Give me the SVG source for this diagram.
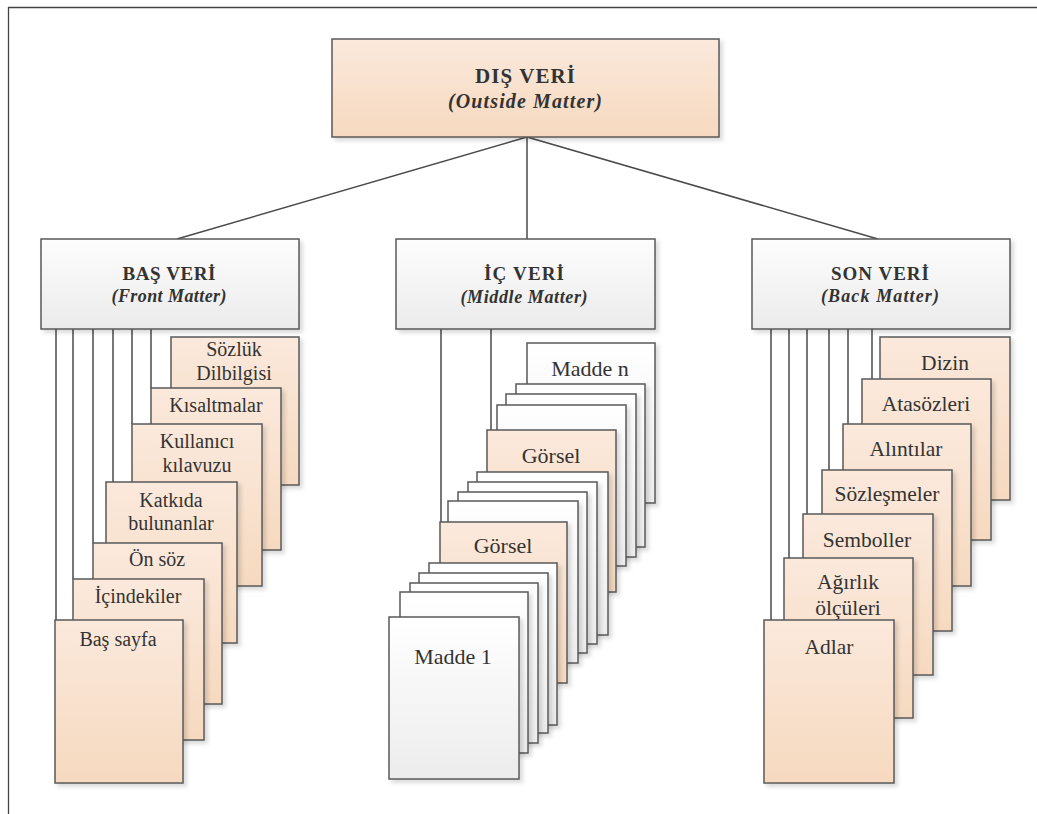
<svg xmlns="http://www.w3.org/2000/svg" width="1037" height="814" viewBox="0 0 1037 814">
<defs>
<linearGradient id="peach" x1="0" y1="0" x2="0" y2="1"><stop offset="0" stop-color="#fbe9dc"/><stop offset="1" stop-color="#f6d9bf"/></linearGradient>
<linearGradient id="white" x1="0" y1="0" x2="0" y2="1"><stop offset="0" stop-color="#ffffff"/><stop offset="1" stop-color="#ececec"/></linearGradient>
<linearGradient id="gray" x1="0" y1="0" x2="0" y2="1"><stop offset="0" stop-color="#fdfdfd"/><stop offset="1" stop-color="#ebebeb"/></linearGradient>
<filter id="sh" x="-10%" y="-10%" width="130%" height="130%"><feDropShadow dx="3" dy="3" stdDeviation="2" flood-color="#000" flood-opacity="0.15"/></filter>
</defs>
<style>
.box{stroke:#5a5a5a;stroke-width:1.5;filter:url(#sh)}
.p{fill:url(#peach)}
.w{fill:url(#white)}
.g{fill:url(#gray)}
.t{font-family:"Liberation Serif","Times New Roman",serif;font-size:20px;fill:#333;text-anchor:middle}
.tm{font-size:22px}
.tr{font-size:21.5px}
.h{font-family:"Liberation Serif","Times New Roman",serif;font-size:19px;font-weight:bold;fill:#333;text-anchor:middle}
.hi{font-family:"Liberation Serif","Times New Roman",serif;font-size:18px;font-weight:bold;font-style:italic;fill:#333;text-anchor:middle}
.big{font-size:21px}
.bigi{font-size:20px}
.c{stroke:#4a4a4a;stroke-width:1.5;fill:none}
</style>
<rect width="1037" height="814" fill="#fff"/>
<path d="M8.5,814 V7.5 H1037" fill="none" stroke="#444" stroke-width="1.3"/>
<g id="connectors" class="c">
<line x1="527" y1="137" x2="177" y2="239"/>
<line x1="527" y1="137" x2="527" y2="239"/>
<line x1="527" y1="137" x2="878" y2="239"/>
<line x1="56" y1="329" x2="56" y2="620"/>
<line x1="73" y1="329" x2="73" y2="579"/>
<line x1="93" y1="329" x2="93" y2="543"/>
<line x1="113" y1="329" x2="113" y2="482"/>
<line x1="132" y1="329" x2="132" y2="424"/>
<line x1="151" y1="329" x2="151" y2="388"/>
<line x1="441" y1="329" x2="441" y2="522"/>
<line x1="491" y1="329" x2="491" y2="430"/>
<line x1="771" y1="329" x2="771" y2="620"/>
<line x1="789" y1="329" x2="789" y2="558"/>
<line x1="807" y1="329" x2="807" y2="514"/>
<line x1="829" y1="329" x2="829" y2="470"/>
<line x1="848" y1="329" x2="848" y2="424"/>
<line x1="872" y1="329" x2="872" y2="379"/>
</g>
<g id="dis-veri"><rect class="box p" x="332" y="39" width="387" height="98"/>
<text class="h big" x="525" y="83" textLength="100" lengthAdjust="spacing">DIŞ VERİ</text>
<text class="hi bigi" x="525" y="108" textLength="154" lengthAdjust="spacing">(Outside Matter)</text></g>
<g id="bas-veri"><rect class="box g" x="41" y="239" width="258" height="90"/>
<text class="h" x="169" y="280" textLength="93" lengthAdjust="spacing">BAŞ VERİ</text>
<text class="hi" x="169" y="302" textLength="115" lengthAdjust="spacing">(Front Matter)</text></g>
<g id="ic-veri"><rect class="box g" x="396" y="239" width="259" height="90"/>
<text class="h" x="524" y="280" textLength="80" lengthAdjust="spacing">İÇ VERİ</text>
<text class="hi" x="524" y="303" textLength="127" lengthAdjust="spacing">(Middle Matter)</text></g>
<g id="son-veri"><rect class="box g" x="752" y="239" width="258" height="90"/>
<text class="h" x="880" y="280" textLength="98" lengthAdjust="spacing">SON VERİ</text>
<text class="hi" x="880" y="302" textLength="118" lengthAdjust="spacing">(Back Matter)</text></g>
<g id="sozluk"><rect class="box p" x="171" y="337" width="128" height="148"/><text class="t" x="234" y="356">Sözlük</text><text class="t" x="234" y="380">Dilbilgisi</text></g>
<g id="kisaltmalar"><rect class="box p" x="151" y="388" width="130" height="162"/><text class="t" x="216" y="412">Kısaltmalar</text></g>
<g id="kullanici"><rect class="box p" x="132" y="424" width="130" height="162"/><text class="t" x="197" y="448">Kullanıcı</text><text class="t" x="197" y="472">kılavuzu</text></g>
<g id="katkida"><rect class="box p" x="106" y="482" width="131" height="161"/><text class="t" x="171" y="507">Katkıda</text><text class="t" x="171" y="530">bulunanlar</text></g>
<g id="onsoz"><rect class="box p" x="93" y="543" width="129" height="161"/><text class="t" x="157" y="566">Ön söz</text></g>
<g id="icindekiler"><rect class="box p" x="73" y="579" width="131" height="161"/><text class="t" x="138" y="603">İçindekiler</text></g>
<g id="bas-sayfa"><rect class="box p" x="55" y="620" width="128" height="163"/><text class="t" x="118" y="646">Baş sayfa</text></g>
<g id="madde-n"><rect class="box w" x="527" y="343" width="128" height="160"/><text class="t tm" x="590" y="376">Madde n</text></g>
<g id="m2"><rect class="box w" x="516" y="384" width="129" height="163"/></g>
<g id="m3"><rect class="box w" x="506" y="394" width="130" height="163"/></g>
<g id="m4"><rect class="box w" x="497" y="405" width="129" height="161"/></g>
<g id="gorsel-2"><rect class="box p" x="487" y="430" width="129" height="162"/><text class="t tm" x="551" y="463">Görsel</text></g>
<g id="m6"><rect class="box w" x="477" y="472" width="131" height="163"/></g>
<g id="m7"><rect class="box w" x="468" y="482" width="129" height="162"/></g>
<g id="m8"><rect class="box w" x="458" y="492" width="129" height="161"/></g>
<g id="m9"><rect class="box w" x="448" y="501" width="130" height="162"/></g>
<g id="gorsel-1"><rect class="box p" x="440" y="522" width="127" height="161"/><text class="t tm" x="503" y="553">Görsel</text></g>
<g id="m11"><rect class="box w" x="429" y="563" width="128" height="162"/></g>
<g id="m12"><rect class="box w" x="419" y="573" width="129" height="160"/></g>
<g id="m13"><rect class="box w" x="410" y="583" width="128" height="160"/></g>
<g id="m14"><rect class="box w" x="400" y="592" width="128" height="161"/></g>
<g id="madde-1"><rect class="box w" x="389" y="617" width="130" height="162"/><text class="t tm" x="453" y="664">Madde 1</text></g>
<g id="dizin"><rect class="box p" x="880" y="337" width="130" height="163"/><text class="t tr" x="945" y="370">Dizin</text></g>
<g id="atasozleri"><rect class="box p" x="862" y="379" width="129" height="161"/><text class="t tr" x="926" y="411">Atasözleri</text></g>
<g id="alintilar"><rect class="box p" x="843" y="424" width="128" height="162"/><text class="t tr" x="906" y="456">Alıntılar</text></g>
<g id="sozlesmeler"><rect class="box p" x="822" y="470" width="130" height="161"/><text class="t tr" x="887" y="501">Sözleşmeler</text></g>
<g id="semboller"><rect class="box p" x="803" y="514" width="130" height="161"/><text class="t tr" x="867" y="547">Semboller</text></g>
<g id="agirlik"><rect class="box p" x="784" y="558" width="129" height="160"/><text class="t tr" x="848" y="589">Ağırlık</text><text class="t tr" x="848" y="615">ölçüleri</text></g>
<g id="adlar"><rect class="box p" x="764" y="620" width="130" height="163"/><text class="t tr" x="829" y="654">Adlar</text></g>
</svg>
